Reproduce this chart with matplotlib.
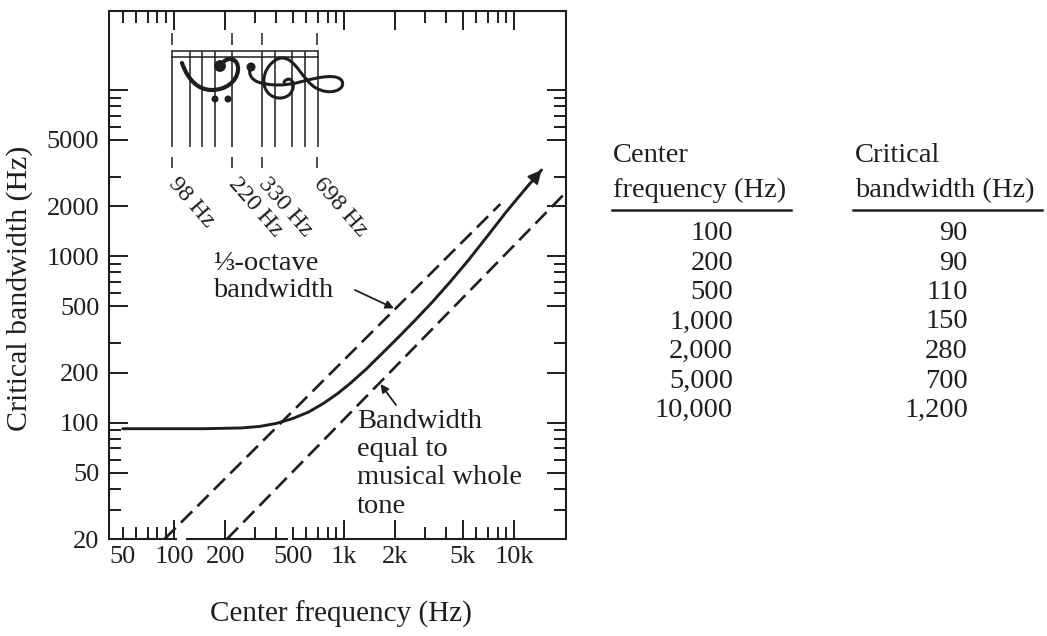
import matplotlib
matplotlib.use("Agg")
import matplotlib.pyplot as plt
from matplotlib import font_manager, ft2font
from matplotlib.path import Path
from matplotlib.patches import PathPatch, Ellipse
from matplotlib.lines import Line2D
from matplotlib.ticker import FixedLocator, FuncFormatter
import numpy as np

W, H, DPI = 1047, 636, 100
INK = "#1e1e1e"
SERIF = ["Liberation Serif", "DejaVu Serif"]
plt.rcParams["font.family"] = SERIF

# Critical bandwidth curve (center frequency, bandwidth), Hz
cb_freq = [50, 150, 250, 320, 400, 500, 620, 760, 920, 1100, 1350, 1670, 2100,
           2600, 3300, 4200, 5400, 7000, 9000, 11500, 14500]
cb_bw = [92, 92, 93, 95, 99, 106, 116, 131, 150, 174, 210, 260, 328,
         410, 530, 700, 950, 1330, 1850, 2500, 3300]

# Reference lines: 1/3-octave bandwidth and bandwidth of a musical whole tone
third_oct_freq = [88, 8300]
third_oct_bw = [20, 2060]
whole_tone_freq = [205, 20000]
whole_tone_bw = [20, 2400]

# Grand staff (drawn sideways): pitches of the bass and treble staff lines, Hz
bass_staff = [98, 123.5, 146.8, 174.6, 220]
treble_staff = [329.6, 392, 493.9, 587.3, 698.5]
marked_notes = [98, 220, 330, 698]
marked_labels = ["98 Hz", "220 Hz", "330 Hz", "698 Hz"]

# Axis ticks
x_major = [100, 200, 1000, 2000, 5000, 10000]
x_minor = [50, 60, 70, 80, 90, 300, 400, 500, 600, 700, 800, 900,
           3000, 4000, 6000, 7000, 8000, 9000]
x_ticklabels = {50: "50", 100: "100", 200: "200", 500: "500", 1000: "1k",
                2000: "2k", 5000: "5k", 10000: "10k"}
y_major = [20, 50, 100, 200, 500, 1000, 2000, 5000, 10000]
y_minor = [30, 40, 60, 70, 80, 90, 300, 600, 700, 800, 900, 3000,
           6000, 7000, 8000, 9000]
y_ticklabels = {20: "20", 50: "50", 100: "100", 200: "200", 500: "500",
                1000: "1000", 2000: "2000", 5000: "5000"}

# Table beside the chart
table_center = ["100", "200", "500", "1,000", "2,000", "5,000", "10,000"]
table_critical = ["90", "90", "110", "150", "280", "700", "1,200"]


def fp(x, y):
    """Pixel position (y measured downward) to figure fraction."""
    return (x / W, 1 - y / H)


fig = plt.figure(figsize=(W / DPI, H / DPI), dpi=DPI)
fig.patch.set_facecolor("white")
ax = fig.add_axes([109 / W, 1 - 539 / H, 457 / W, 528.5 / H])
ax.set_xscale("log")
ax.set_yscale("log")
ax.set_xlim(41.5, 20200)
ax.set_ylim(20, 30000)

# ticks
ax.xaxis.set_major_locator(FixedLocator(x_major))
ax.xaxis.set_minor_locator(FixedLocator(x_minor))
ax.yaxis.set_major_locator(FixedLocator(y_major))
ax.yaxis.set_minor_locator(FixedLocator(y_minor))
xfmt = FuncFormatter(lambda v, p: x_ticklabels.get(int(round(v)), ""))
yfmt = FuncFormatter(lambda v, p: y_ticklabels.get(int(round(v)), ""))
ax.xaxis.set_major_formatter(xfmt)
ax.xaxis.set_minor_formatter(xfmt)
ax.yaxis.set_major_formatter(yfmt)
ax.yaxis.set_minor_formatter(yfmt)
ax.tick_params(which="both", direction="in", top=True, right=True,
               color=INK, labelcolor=INK, width=1.4, labelsize=19)
ax.tick_params(which="major", length=13.5)
ax.tick_params(which="minor", length=8.5)
ax.tick_params(axis="x", which="both", pad=5)
ax.tick_params(axis="y", which="both", pad=7)

for side in ("left", "right", "top"):
    ax.spines[side].set_linewidth(1.5)
    ax.spines[side].set_color(INK)
ax.spines["bottom"].set_visible(False)
# bottom frame line, drawn in pieces (it is broken in two places)
xt = ax.get_xaxis_transform()
for a, b in [(41.5, 104), (118, 470), (497, 20200)]:
    ax.plot([a, b], [0, 0], transform=xt, color=INK, lw=1.5,
            solid_capstyle="butt", clip_on=False)

# reference lines
dash = (0, (6, 2.8))
ax.plot(third_oct_freq, third_oct_bw, color=INK, lw=1.9, ls=dash)
ax.plot(whole_tone_freq, whole_tone_bw, color=INK, lw=1.9, ls=dash)

# critical bandwidth curve with arrowhead at its upper end
ax.plot(cb_freq, cb_bw, color=INK, lw=2.1, solid_capstyle="round",
        solid_joinstyle="round")
ax.annotate("", xy=(cb_freq[-1], cb_bw[-1]), xytext=(cb_freq[-2], cb_bw[-2]),
            arrowprops=dict(arrowstyle="-|>", color=INK, lw=1.5,
                            mutation_scale=20, shrinkA=0, shrinkB=0))

# sideways grand staff
STAFF_TOP, STAFF_RULE2, STAFF_BOTTOM = 0.923, 0.912, 0.742
ax.vlines(bass_staff + treble_staff, STAFF_BOTTOM, STAFF_TOP, transform=xt,
          color=INK, lw=1.1)
for yy in (STAFF_TOP, STAFF_RULE2):
    ax.plot([bass_staff[0], treble_staff[-1]], [yy, yy], transform=xt,
            color=INK, lw=1.1)
ax.vlines(marked_notes, 0.935, 0.957, transform=xt, color=INK, lw=1.1)
ax.vlines(marked_notes, 0.702, 0.723, transform=xt, color=INK, lw=1.1)
for f, lab in zip(marked_notes, marked_labels):
    ax.text(f, 0.678, lab, transform=xt, rotation=-49, rotation_mode="anchor",
            ha="left", va="center", fontsize=17.5, color=INK)


# clefs
def glyph_font(ch):
    for fam in ["DejaVu Sans", "DejaVu Serif", "STIXGeneral", "Noto Sans"]:
        try:
            path = font_manager.findfont(font_manager.FontProperties(family=fam),
                                         fallback_to_default=False)
            if ord(ch) in ft2font.FT2Font(path).get_charmap():
                return fam
        except Exception:
            pass
    return None


def bez(points, codes):
    verts = [fp(x, y) for x, y in points]
    return Path(verts, codes)


M, C = Path.MOVETO, Path.CURVE4
bass_fam = glyph_font("\U0001D122")
treble_fam = glyph_font("\U0001D11E")
if bass_fam and treble_fam:
    fig.text(*fp(209, 76), "\U0001D122", family=bass_fam, fontsize=34,
             rotation=-90, ha="center", va="center", color=INK)
    fig.text(*fp(293, 78), "\U0001D11E", family=treble_fam, fontsize=40,
             rotation=-90, ha="center", va="center", color=INK)
else:
    bass = bez([(221, 65), (227, 55), (239, 58), (238, 70),
                (237, 82), (225, 90), (212, 90),
                (198, 90), (188, 80), (182, 63)],
               [M, C, C, C, C, C, C, C, C, C])
    fig.add_artist(PathPatch(bass, transform=fig.transFigure, fill=False,
                             lw=3.0, ec=INK, capstyle="round"))
    treble = bez([(284, 82), (290, 74), (298, 84), (290, 94),
                  (282, 102), (266, 98), (264, 84),
                  (262, 70), (274, 58), (282, 58),
                  (296, 58), (302, 80), (316, 88),
                  (330, 96), (346, 90), (342, 81),
                  (338, 74), (322, 76), (300, 82),
                  (285, 86), (270, 86), (258, 82),
                  (250, 79), (248, 72), (251, 67)],
                 [M] + [C] * 24)
    fig.add_artist(PathPatch(treble, transform=fig.transFigure, fill=False,
                             lw=2.2, ec=INK, capstyle="round"))
    for (cx, cy, r) in [(220, 66, 5.2), (215, 99, 2.8), (228, 99, 2.8),
                        (251, 67, 3.8)]:
        x0, y0 = fp(cx, cy)
        fig.add_artist(Ellipse((x0, y0), 2 * r / W, 2 * r / H,
                               transform=fig.transFigure, color=INK))

# annotations
TXT = dict(fontsize=20.5, color=INK)
fig.text(*fp(213, 264), "\u2153-octave", ha="left", va="center", **TXT)
fig.text(*fp(213, 291), "bandwidth", ha="left", va="center", **TXT)
tip_f = 2000
tip_bw = 10 ** np.interp(np.log10(tip_f), np.log10(third_oct_freq),
                         np.log10(third_oct_bw))
ax.annotate("", xy=(tip_f, tip_bw), xytext=fp(355, 290),
            textcoords="figure fraction",
            arrowprops=dict(arrowstyle="-|>", color=INK, lw=1.3,
                            mutation_scale=12, shrinkA=0, shrinkB=1))

for i, line in enumerate(["Bandwidth", "equal to", "musical whole", "tone"]):
    fig.text(*fp(357, 421 + 28.5 * i), line, ha="left", va="center", **TXT)
tip_f2 = 1620
tip_bw2 = 10 ** np.interp(np.log10(tip_f2), np.log10(whole_tone_freq),
                          np.log10(whole_tone_bw))
ax.annotate("", xy=(tip_f2, tip_bw2), xytext=fp(396, 405),
            textcoords="figure fraction",
            arrowprops=dict(arrowstyle="-|>", color=INK, lw=1.3,
                            mutation_scale=12, shrinkA=0, shrinkB=1))

# axis titles
fig.text(*fp(341, 614), "Center frequency (Hz)", ha="center", va="center",
         fontsize=21, color=INK)
fig.text(*fp(20, 288), "Critical bandwidth (Hz)", ha="center", va="center",
         rotation=90, fontsize=21.5, color=INK)

# table
fig.text(*fp(613, 162), "Center", ha="left", va="baseline", **TXT)
fig.text(*fp(613, 197), "frequency (Hz)", ha="left", va="baseline", **TXT)
fig.text(*fp(855, 162), "Critical", ha="left", va="baseline", **TXT)
fig.text(*fp(855, 197), "bandwidth (Hz)", ha="left", va="baseline", **TXT)
for x0, x1 in [(612, 791), (853, 1042)]:
    fig.add_artist(Line2D([x0 / W, x1 / W], [1 - 210 / H] * 2,
                          transform=fig.transFigure, color=INK, lw=1.8))
for i, (c, b) in enumerate(zip(table_center, table_critical)):
    y = 240 + 29.5 * i
    fig.text(*fp(733, y), c, ha="right", va="baseline", **TXT)
    fig.text(*fp(968, y), b, ha="right", va="baseline", **TXT)

fig.savefig("out.png", dpi=DPI, facecolor="white")
